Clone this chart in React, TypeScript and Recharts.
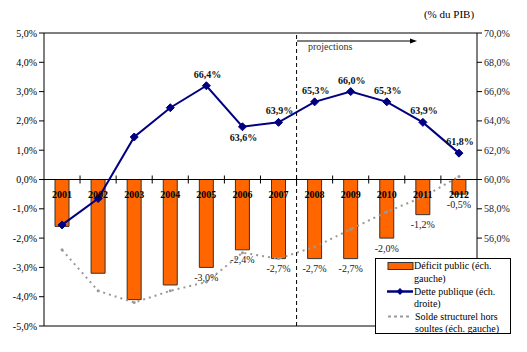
import { ComposedChart, Bar, Line, XAxis, YAxis, ReferenceLine, LabelList } from "recharts";

const years = ["2001", "2002", "2003", "2004", "2005", "2006", "2007", "2008", "2009", "2010", "2011", "2012"];
// déficit public, % du PIB (échelle gauche)
const deficit = [-1.6, -3.2, -4.1, -3.6, -3.0, -2.4, -2.7, -2.7, -2.7, -2.0, -1.2, -0.5];
// dette publique, % du PIB (échelle droite)
const debt = [56.9, 58.7, 62.9, 64.9, 66.4, 63.6, 63.9, 65.3, 66.0, 65.3, 63.9, 61.8];
// solde structurel hors soultes (échelle gauche)
const structural = [-2.4, -3.8, -4.2, -3.8, -3.5, -2.5, -2.7, -2.3, -1.7, -1.1, -0.6, 0.1];
const deficitLabelled = [false, false, false, false, true, true, true, true, true, true, true, true];
const debtLabelPos = [null, null, null, null, "above", "below", "above", "above", "above", "above", "above", "above"];
const leftTicks = [-5, -4, -3, -2, -1, 0, 1, 2, 3, 4, 5];
const rightTicks = [56, 58, 60, 62, 64, 66, 68, 70];

const data = years.map((year, i) => ({
  year,
  deficit: deficit[i],
  debt: debt[i],
  structural: structural[i],
}));

const W = 527;
const H = 352;
const MARGIN = { top: 33, right: 0, left: 0, bottom: 0 };
const LEFT_W = 44;
const RIGHT_W = 50;
const X_H = 26;
const PLOT_W = W - LEFT_W - RIGHT_W;
const BAND = PLOT_W / years.length;
const FONT = "Liberation Serif, DejaVu Serif, serif";
const serif = { fontFamily: FONT };

const fmt = (v: number) => v.toFixed(1).replace(".", ",") + "%";

function Diamond(props: any) {
  const { cx, cy } = props;
  if (cx == null || cy == null) return null;
  const r = 4;
  return (
    <polygon
      points={`${cx},${cy - r} ${cx + r},${cy} ${cx},${cy + r} ${cx - r},${cy}`}
      fill="#000080"
      stroke="#000080"
    />
  );
}

function SmallDot(props: any) {
  const { cx, cy } = props;
  if (cx == null || cy == null) return null;
  return <circle cx={cx} cy={cy} r={1.5} fill="#999" />;
}

// year labels + cross ticks on the zero line, drawn from the bar geometry
function YearLabel(props: any) {
  const { x, y, width, height, index } = props;
  if (x == null || index == null) return null;
  const top = Math.min(y, y + height);
  const cx = x + width / 2;
  return (
    <g>
      <text x={cx} y={top + 18} textAnchor="middle" style={serif} fontSize={10} fontWeight="bold" fill="#000">
        {years[index]}
      </text>
      {index < years.length - 1 && (
        <line x1={cx + BAND / 2} x2={cx + BAND / 2} y1={top - 4} y2={top + 4} stroke="#000" strokeWidth={1} />
      )}
    </g>
  );
}

function DeficitLabel(props: any) {
  const { x, y, width, height, index } = props;
  if (x == null || index == null || !deficitLabelled[index]) return null;
  const bottom = Math.max(y, y + height);
  return (
    <text x={x + width / 2} y={bottom + 13.5} textAnchor="middle" style={serif} fontSize={10} fill="#222">
      {fmt(deficit[index])}
    </text>
  );
}

function DebtLabel(props: any) {
  const { x, y, index } = props;
  const pos = index != null ? debtLabelPos[index] : null;
  if (!pos || x == null) return null;
  return (
    <text
      x={x + 1}
      y={pos === "above" ? y - 8 : y + 14}
      textAnchor="middle"
      style={serif}
      fontSize={10}
      fontWeight="bold"
      fill="#111"
    >
      {fmt(debt[index])}
    </text>
  );
}

export default function App() {
  return (
    <div style={{ position: "absolute", left: 0, top: 0, width: W, height: H, background: "#fff", fontFamily: FONT }}>
      <ComposedChart width={W} height={H} data={data} margin={MARGIN} style={serif}>
        <XAxis dataKey="year" height={X_H} axisLine={{ stroke: "#000" }} tickLine={false} tick={false} />
        <YAxis
          yAxisId="left"
          domain={[-5, 5]}
          ticks={leftTicks}
          width={LEFT_W}
          axisLine={{ stroke: "#000" }}
          tickLine={{ stroke: "#000" }}
          tickSize={5}
          tick={{ fontSize: 10, fill: "#000", style: serif }}
          tickFormatter={(v: number) => fmt(v)}
          interval={0}
        />
        <YAxis
          yAxisId="right"
          orientation="right"
          domain={[50, 70]}
          ticks={rightTicks}
          width={RIGHT_W}
          axisLine={{ stroke: "#000" }}
          tickLine={{ stroke: "#000" }}
          tickSize={5}
          tick={{ fontSize: 10, fill: "#222", style: serif }}
          tickFormatter={(v: number) => fmt(v)}
          interval={0}
        />
        <ReferenceLine yAxisId="left" y={5} stroke="#000" />
        <ReferenceLine yAxisId="left" y={0} stroke="#000" />
        <ReferenceLine yAxisId="left" x="2007" position="end" stroke="#000" strokeDasharray="4 3" />
        <Bar
          yAxisId="left"
          dataKey="deficit"
          barSize={14}
          fill="#FF6600"
          stroke="#333"
          strokeWidth={1}
          isAnimationActive={false}
        >
          <LabelList dataKey="deficit" content={YearLabel} />
          <LabelList dataKey="deficit" content={DeficitLabel} />
        </Bar>
        <Line
          yAxisId="left"
          dataKey="structural"
          type="linear"
          stroke="#999"
          strokeWidth={2}
          strokeDasharray="2 4"
          dot={<SmallDot />}
          activeDot={false}
          isAnimationActive={false}
        />
        <Line
          yAxisId="right"
          dataKey="debt"
          type="linear"
          stroke="#000080"
          strokeWidth={2}
          dot={<Diamond />}
          activeDot={false}
          isAnimationActive={false}
        >
          <LabelList dataKey="debt" content={DebtLabel} />
        </Line>
      </ComposedChart>

      <svg width={W} height={H} style={{ position: "absolute", left: 0, top: 0, pointerEvents: "none", fontFamily: FONT }}>
        <text x={449} y={18} textAnchor="middle" fontSize={11} fill="#000">
          (% du PIB)
        </text>
        <line x1={297} x2={412} y1={41} y2={41} stroke="#000" strokeWidth={1} />
        <polygon points="417,41 410,38.5 410,43.5" fill="#000" />
        <text x={308} y={50} fontSize={10} fill="#333">
          projections
        </text>

        <rect x={375.5} y={258.5} width={135} height={75} fill="#fff" stroke="#000" strokeWidth={1} />
        <rect x={388} y={262.5} width={25} height={7} fill="#FF6600" stroke="#333" strokeWidth={1} />
        <text x={414} y={268.5} fontSize={10} fill="#000">Déficit public (éch.</text>
        <text x={414} y={281.5} fontSize={10} fill="#000">gauche)</text>
        <line x1={387} x2={413} y1={291.5} y2={291.5} stroke="#000080" strokeWidth={2.5} />
        <polygon points="400,288 403.5,291.5 400,295 396.5,291.5" fill="#000080" />
        <text x={414} y={295} fontSize={10} fill="#000">Dette publique (éch.</text>
        <text x={414} y={307} fontSize={10} fill="#000">droite)</text>
        <line x1={388} x2={411} y1={316.5} y2={316.5} stroke="#999" strokeWidth={2} strokeDasharray="3 3" />
        <text x={415} y={320} fontSize={10} fill="#000">Solde structurel hors</text>
        <text x={415} y={331.5} fontSize={10} fill="#000">soultes (éch. gauche)</text>
      </svg>
    </div>
  );
}
